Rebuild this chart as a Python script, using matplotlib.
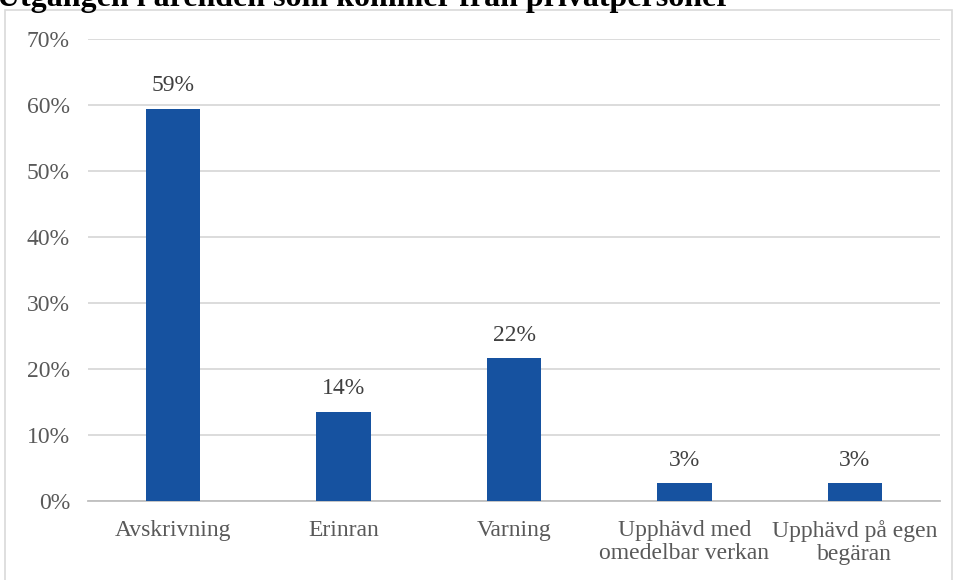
import matplotlib.pyplot as plt
from matplotlib.patches import Rectangle

categories = ['Avskrivning', 'Erinran', 'Varning',
              'Upphävd med\nomedelbar verkan', 'Upphävd på egen\nbegäran']
shares = [59.4, 13.5, 21.6, 2.7, 2.7]
yticks = [0, 10, 20, 30, 40, 50, 60, 70]

plt.rcParams['font.family'] = ['Liberation Serif', 'DejaVu Serif']

fig = plt.figure(figsize=(9.56, 5.8), dpi=100)
ax = fig.add_axes([88 / 956, 1 - 501 / 580, 852 / 956, 462 / 580])

# outer chart frame
fig.patches.append(Rectangle((4.5 / 956, -0.05), 947 / 956, 1.05 - 10.5 / 580,
                             transform=fig.transFigure, fill=False,
                             edgecolor='#d9d9d9', linewidth=1.2))

fig.text(-0.003, 1 - 6 / 580, 'Utgången i ärenden som kommer från privatpersoner',
         fontsize=23, fontweight='bold', color='black', va='baseline', ha='left')

x = range(len(categories))
ax.bar(x, shares, width=0.32, color='#1652a0', zorder=3)
for i, v in zip(x, shares):
    ax.annotate(f'{v:.0f}%', (i, v), xytext=(0, 9), textcoords='offset points',
                ha='center', va='bottom', fontsize=17, color='#404040')

ax.set_xlim(-0.5, len(categories) - 0.5)
ax.set_ylim(0, 70)
ax.set_yticks(yticks)
ax.set_yticklabels([f'{t}%' for t in yticks])
ax.set_xticks(list(x))
ax.set_xticklabels(categories, linespacing=1.12)
ax.grid(axis='y', color='#d9d9d9', linewidth=1.3, zorder=0)
for s in ['top', 'right', 'left']:
    ax.spines[s].set_visible(False)
ax.spines['bottom'].set_color('#bfbfbf')
ax.spines['bottom'].set_linewidth(1.3)
ax.tick_params(axis='both', length=0, labelsize=17, labelcolor='#595959')
ax.tick_params(axis='y', pad=13)
ax.tick_params(axis='x', pad=14)

fig.savefig('out.png', dpi=100)
